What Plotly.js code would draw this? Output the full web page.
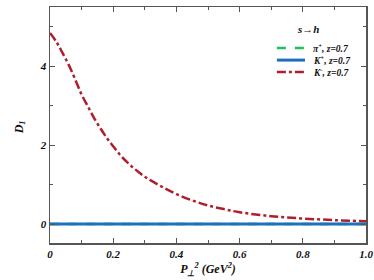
<!DOCTYPE html>
<html><head><meta charset="utf-8">
<script src="https://cdn.plot.ly/plotly-3.0.1.min.js"></script>
<style>html,body{margin:0;padding:0;background:#fff}#c{width:374px;height:280px}</style>
</head><body><div id="c"></div>
<script>
const xPi = [0, 0.25, 0.5, 0.75, 1.0];
const yPi = [0, 0, 0, 0, 0];
const xKp = [0, 0.25, 0.5, 0.75, 1.0];
const yKp = [0, 0, 0, 0, 0];
const xKm = [0, 0.02, 0.04, 0.06, 0.08, 0.10, 0.12, 0.14, 0.16, 0.18, 0.20, 0.22, 0.24, 0.26, 0.28, 0.30, 0.32, 0.36, 0.40, 0.45, 0.50, 0.55, 0.60, 0.70, 0.80, 0.90, 1.00];
const yKm = [4.84, 4.62, 4.33, 4.02, 3.66, 3.28, 2.98, 2.68, 2.42, 2.18, 1.97, 1.77, 1.60, 1.45, 1.32, 1.20, 1.10, 0.92, 0.76, 0.60, 0.47, 0.38, 0.30, 0.20, 0.14, 0.10, 0.07];
const xTicks = [0, 0.2, 0.4, 0.6, 0.8, 1.0];
const xTickText = ['0', '0.2', '0.4', '0.6', '0.8', '1.0'];
const yTicks = [0, 2, 4];
const yTickText = ['0', '2', '4'];
const names = ['π<sup>+</sup>, z=0.7', 'K<sup>+</sup>, z=0.7', 'K<sup>-</sup>, z=0.7'];
const colors = ['#1fbf5a', '#1f6fbf', '#b01e2e'];
const dashes = ['dash', 'solid', 'dashdot'];
const widths = [2.5, 3, 2.5];

const serif = 'Liberation Serif, Times New Roman, serif';
const xs = [xPi, xKp, xKm], ys = [yPi, yKp, yKm];
const traces = xs.map((x, i) => ({
  x: x, y: ys[i], name: names[i], mode: 'lines', showlegend: false,
  line: {color: colors[i], width: widths[i], dash: dashes[i], shape: i === 2 ? 'spline' : 'linear'}
}));

// manual legend (keys in paper coordinates)
const legY = [0.826, 0.775, 0.725];
const shapes = names.map((n, i) => ({
  type: 'line', xref: 'paper', yref: 'paper', x0: 0.718, x1: 0.807, y0: legY[i], y1: legY[i],
  line: {color: colors[i], width: widths[i], dash: dashes[i]}
}));
const annotations = names.map((n, i) => ({
  xref: 'paper', yref: 'paper', x: 0.826, y: legY[i], xanchor: 'left', yanchor: 'middle',
  text: '<b><i>' + n + '</i></b>', showarrow: false, font: {family: serif, size: 9.5, color: '#111'}
}));
annotations.push({xref: 'paper', yref: 'paper', x: 0.816, y: 0.907, xanchor: 'center', yanchor: 'middle',
  text: '<b><i>s→h</i></b>', showarrow: false, font: {family: serif, size: 11, color: '#111'}});
annotations.push({xref: 'paper', yref: 'paper', x: -0.095, y: 0.49, xanchor: 'center', yanchor: 'middle',
  textangle: -90, text: '<b><i>D<sub>1</sub></i></b>', showarrow: false, font: {family: serif, size: 12, color: '#111'}});

const axisCommon = {
  showgrid: false, zeroline: false, showline: true, linecolor: '#555', linewidth: 1.5,
  mirror: 'ticks', ticks: 'inside', ticklen: 5, tickwidth: 1, tickcolor: '#555',
  tickfont: {family: serif, size: 11, color: '#111'}
};
const layout = {
  width: 374, height: 280,
  margin: {l: 50, r: 8, t: 7, b: 37},
  paper_bgcolor: '#fff', plot_bgcolor: '#fff',
  showlegend: false,
  xaxis: Object.assign({}, axisCommon, {
    range: [0, 1.0], tickvals: xTicks, ticktext: xTickText.map(t => '<b><i>' + t + '</i></b>'),
    minor: {dtick: 0.1, tick0: 0, ticks: 'inside', ticklen: 3, tickcolor: '#555', showgrid: false},
    title: {text: '<b><i>P<sub>⊥</sub><sup>2</sup> (GeV<sup>2</sup>)</i></b>', font: {family: serif, size: 12, color: '#111'}, standoff: 6}
  }),
  yaxis: Object.assign({}, axisCommon, {
    range: [-0.48, 5.5], tickvals: yTicks, ticktext: yTickText.map(t => '<b><i>' + t + '</i></b>'),
    minor: {dtick: 1, tick0: 0, ticks: 'inside', ticklen: 3, tickcolor: '#555', showgrid: false}
  }),
  shapes: shapes,
  annotations: annotations
};
Plotly.newPlot('c', traces, layout, {displayModeBar: false, staticPlot: true});
</script></body></html>
